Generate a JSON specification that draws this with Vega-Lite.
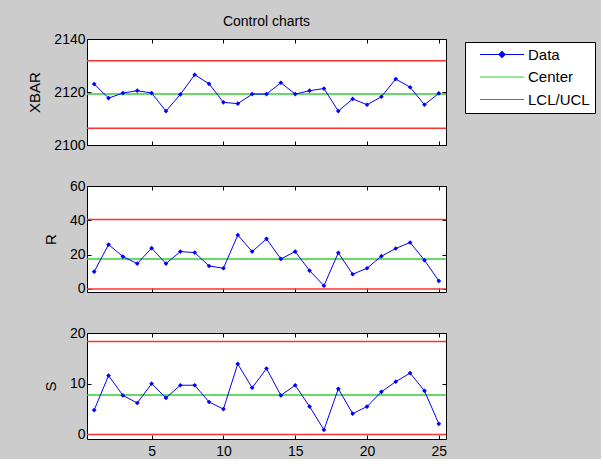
{
  "$schema": "https://vega.github.io/schema/vega-lite/v6.json",
  "background": "#cccccc",
  "padding": {"left": 27, "top": 14, "right": 5, "bottom": 0},
  "bounds": "flush",
  "spacing": 41,
  "config": {
    "font": "Liberation Sans",
    "view": {"fill": "white", "stroke": "#000000", "strokeWidth": 1},
    "axis": {
      "grid": false, "domain": false, "ticks": true, "tickSize": -4, "tickColor": "#000000", "format": "d",
      "labelColor": "#000000", "labelFontSize": 14, "labelFont": "Liberation Sans",
      "titleFont": "Liberation Sans", "titleFontSize": 15, "titleFontWeight": "normal", "titleColor": "#000000"
    }
  },
  "datasets": {
    "pts": [
      {"chart": "XBAR", "sample": 1, "value": 2123.0, "series": "Data"},
      {"chart": "XBAR", "sample": 2, "value": 2117.7, "series": "Data"},
      {"chart": "XBAR", "sample": 3, "value": 2119.6, "series": "Data"},
      {"chart": "XBAR", "sample": 4, "value": 2120.5, "series": "Data"},
      {"chart": "XBAR", "sample": 5, "value": 2119.6, "series": "Data"},
      {"chart": "XBAR", "sample": 6, "value": 2112.8, "series": "Data"},
      {"chart": "XBAR", "sample": 7, "value": 2119.1, "series": "Data"},
      {"chart": "XBAR", "sample": 8, "value": 2126.5, "series": "Data"},
      {"chart": "XBAR", "sample": 9, "value": 2123.1, "series": "Data"},
      {"chart": "XBAR", "sample": 10, "value": 2116.1, "series": "Data"},
      {"chart": "XBAR", "sample": 11, "value": 2115.6, "series": "Data"},
      {"chart": "XBAR", "sample": 12, "value": 2119.2, "series": "Data"},
      {"chart": "XBAR", "sample": 13, "value": 2119.2, "series": "Data"},
      {"chart": "XBAR", "sample": 14, "value": 2123.5, "series": "Data"},
      {"chart": "XBAR", "sample": 15, "value": 2119.2, "series": "Data"},
      {"chart": "XBAR", "sample": 16, "value": 2120.5, "series": "Data"},
      {"chart": "XBAR", "sample": 17, "value": 2121.3, "series": "Data"},
      {"chart": "XBAR", "sample": 18, "value": 2112.8, "series": "Data"},
      {"chart": "XBAR", "sample": 19, "value": 2117.4, "series": "Data"},
      {"chart": "XBAR", "sample": 20, "value": 2115.2, "series": "Data"},
      {"chart": "XBAR", "sample": 21, "value": 2118.2, "series": "Data"},
      {"chart": "XBAR", "sample": 22, "value": 2124.9, "series": "Data"},
      {"chart": "XBAR", "sample": 23, "value": 2121.8, "series": "Data"},
      {"chart": "XBAR", "sample": 24, "value": 2115.2, "series": "Data"},
      {"chart": "XBAR", "sample": 25, "value": 2119.5, "series": "Data"},
      {"chart": "R", "sample": 1, "value": 10.1, "series": "Data"},
      {"chart": "R", "sample": 2, "value": 25.9, "series": "Data"},
      {"chart": "R", "sample": 3, "value": 18.9, "series": "Data"},
      {"chart": "R", "sample": 4, "value": 14.8, "series": "Data"},
      {"chart": "R", "sample": 5, "value": 23.8, "series": "Data"},
      {"chart": "R", "sample": 6, "value": 14.8, "series": "Data"},
      {"chart": "R", "sample": 7, "value": 21.8, "series": "Data"},
      {"chart": "R", "sample": 8, "value": 21.2, "series": "Data"},
      {"chart": "R", "sample": 9, "value": 13.4, "series": "Data"},
      {"chart": "R", "sample": 10, "value": 12.1, "series": "Data"},
      {"chart": "R", "sample": 11, "value": 31.4, "series": "Data"},
      {"chart": "R", "sample": 12, "value": 21.8, "series": "Data"},
      {"chart": "R", "sample": 13, "value": 29.2, "series": "Data"},
      {"chart": "R", "sample": 14, "value": 17.5, "series": "Data"},
      {"chart": "R", "sample": 15, "value": 21.8, "series": "Data"},
      {"chart": "R", "sample": 16, "value": 10.7, "series": "Data"},
      {"chart": "R", "sample": 17, "value": 1.9, "series": "Data"},
      {"chart": "R", "sample": 18, "value": 21.1, "series": "Data"},
      {"chart": "R", "sample": 19, "value": 8.6, "series": "Data"},
      {"chart": "R", "sample": 20, "value": 12.1, "series": "Data"},
      {"chart": "R", "sample": 21, "value": 19.1, "series": "Data"},
      {"chart": "R", "sample": 22, "value": 23.6, "series": "Data"},
      {"chart": "R", "sample": 23, "value": 27.1, "series": "Data"},
      {"chart": "R", "sample": 24, "value": 16.8, "series": "Data"},
      {"chart": "R", "sample": 25, "value": 4.7, "series": "Data"},
      {"chart": "S", "sample": 1, "value": 4.8, "series": "Data"},
      {"chart": "S", "sample": 2, "value": 11.6, "series": "Data"},
      {"chart": "S", "sample": 3, "value": 7.7, "series": "Data"},
      {"chart": "S", "sample": 4, "value": 6.2, "series": "Data"},
      {"chart": "S", "sample": 5, "value": 10.0, "series": "Data"},
      {"chart": "S", "sample": 6, "value": 7.2, "series": "Data"},
      {"chart": "S", "sample": 7, "value": 9.7, "series": "Data"},
      {"chart": "S", "sample": 8, "value": 9.7, "series": "Data"},
      {"chart": "S", "sample": 9, "value": 6.4, "series": "Data"},
      {"chart": "S", "sample": 10, "value": 5.0, "series": "Data"},
      {"chart": "S", "sample": 11, "value": 13.9, "series": "Data"},
      {"chart": "S", "sample": 12, "value": 9.2, "series": "Data"},
      {"chart": "S", "sample": 13, "value": 13.0, "series": "Data"},
      {"chart": "S", "sample": 14, "value": 7.7, "series": "Data"},
      {"chart": "S", "sample": 15, "value": 9.7, "series": "Data"},
      {"chart": "S", "sample": 16, "value": 5.5, "series": "Data"},
      {"chart": "S", "sample": 17, "value": 0.9, "series": "Data"},
      {"chart": "S", "sample": 18, "value": 9.0, "series": "Data"},
      {"chart": "S", "sample": 19, "value": 4.1, "series": "Data"},
      {"chart": "S", "sample": 20, "value": 5.5, "series": "Data"},
      {"chart": "S", "sample": 21, "value": 8.4, "series": "Data"},
      {"chart": "S", "sample": 22, "value": 10.4, "series": "Data"},
      {"chart": "S", "sample": 23, "value": 12.1, "series": "Data"},
      {"chart": "S", "sample": 24, "value": 8.6, "series": "Data"},
      {"chart": "S", "sample": 25, "value": 2.1, "series": "Data"}
    ],
    "lims": [
      {"chart": "XBAR", "value": 2119.2, "series": "Center"},
      {"chart": "XBAR", "value": 2131.8, "series": "LCL/UCL"},
      {"chart": "XBAR", "value": 2106.3, "series": "LCL/UCL"},
      {"chart": "R", "value": 17.5, "series": "Center"},
      {"chart": "R", "value": 40.5, "series": "LCL/UCL"},
      {"chart": "R", "value": 0, "series": "LCL/UCL"},
      {"chart": "S", "value": 7.8, "series": "Center"},
      {"chart": "S", "value": 18.3, "series": "LCL/UCL"},
      {"chart": "S", "value": 0, "series": "LCL/UCL"}
    ]
  },
  "vconcat": [
    {
      "width": 359, "height": 106,
      "title": {"text": "Control charts", "fontSize": 14, "fontWeight": "normal", "color": "#000000", "font": "Liberation Sans", "offset": 3},
      "layer": [
        {
          "data": {"name": "lims"},
          "transform": [{"filter": "datum.chart === 'XBAR'"}],
          "mark": {"type": "rule", "strokeWidth": 1.5},
          "encoding": {
            "y": {"field": "value", "type": "quantitative", "scale": {"domain": [2100, 2140], "nice": false, "zero": false}, "axis": null},
            "color": {"field": "series", "type": "nominal",
              "scale": {"domain": ["Data", "Center", "LCL/UCL"], "range": ["#0000ff", "#33cc33", "#ff3030"]},
              "legend": {"title": null, "orient": "none", "legendX": 378, "legendY": 3, "padding": 5, "strokeColor": "#000000", "fillColor": "#ffffff",
                "labelFontSize": 15, "labelColor": "#000000", "labelFont": "Liberation Sans", "symbolSize": 100, "symbolStrokeWidth": 1.2,
                "rowPadding": 6.5, "labelOffset": 37, "symbolOffset": 6, "symbolType": "stroke",
                "encode": {"symbols": {"update": {
                  "shape": {"signal": "datum.value === 'Data' ? 'M-0.7,0H8.1M3.7,-0.6L4.3,0L3.7,0.6L3.1,0Z' : 'M-0.7,0H8.1'"},
                  "fill": {"signal": "datum.value === 'Data' ? '#0000ff' : 'transparent'"},
                  "stroke": {"signal": "datum.value === 'Data' ? '#0000ff' : datum.value === 'Center' ? '#33cc33' : '#ff0000'"},
                  "strokeWidth": {"value": 1.2},
                  "opacity": {"value": 1}
                }}}}
            }
          }
        },
        {
          "data": {"name": "pts"},
          "transform": [{"filter": "datum.chart === 'XBAR'"}],
          "mark": {"type": "line", "strokeWidth": 1, "point": {"shape": "diamond", "size": 22, "filled": true}},
          "encoding": {
            "x": {"field": "sample", "type": "quantitative", "scale": {"domain": [0.5, 25.5], "nice": false, "zero": false},
              "axis": {"values": [5, 10, 15, 20, 25], "labels": false, "title": null}},
            "y": {"field": "value", "type": "quantitative", "axis": {"values": [2100, 2120, 2140], "title": "XBAR", "labelPadding": 6, "titlePadding": 11}},
            "color": {"field": "series", "type": "nominal"}
          }
        },
        {
          "data": {"name": "pts"},
          "transform": [{"filter": "datum.chart === 'XBAR'"}],
          "mark": {"type": "point", "opacity": 0},
          "encoding": {
            "x": {"field": "sample", "type": "quantitative", "axis": {"values": [5, 10, 15, 20, 25], "labels": false, "title": null, "orient": "top"}},
            "y": {"field": "value", "type": "quantitative", "axis": {"values": [2100, 2120, 2140], "labels": false, "title": null, "orient": "right"}}
          }
        }
      ],
      "resolve": {"axis": {"x": "independent", "y": "independent"}}
    },
    {
      "width": 359, "height": 106,
      "layer": [
        {
          "data": {"name": "lims"},
          "transform": [{"filter": "datum.chart === 'R'"}],
          "mark": {"type": "rule", "strokeWidth": 1.5},
          "encoding": {
            "y": {"field": "value", "type": "quantitative", "scale": {"domain": [-1.75, 60], "nice": false, "zero": false}, "axis": null},
            "color": {"field": "series", "type": "nominal"}
          }
        },
        {
          "data": {"name": "pts"},
          "transform": [{"filter": "datum.chart === 'R'"}],
          "mark": {"type": "line", "strokeWidth": 1, "point": {"shape": "diamond", "size": 22, "filled": true}},
          "encoding": {
            "x": {"field": "sample", "type": "quantitative", "scale": {"domain": [0.5, 25.5], "nice": false, "zero": false},
              "axis": {"values": [5, 10, 15, 20, 25], "labels": false, "title": null}},
            "y": {"field": "value", "type": "quantitative", "axis": {"values": [0, 20, 40, 60], "title": "R", "labelPadding": 6, "titlePadding": 11}},
            "color": {"field": "series", "type": "nominal"}
          }
        },
        {
          "data": {"name": "pts"},
          "transform": [{"filter": "datum.chart === 'R'"}],
          "mark": {"type": "point", "opacity": 0},
          "encoding": {
            "x": {"field": "sample", "type": "quantitative", "axis": {"values": [5, 10, 15, 20, 25], "labels": false, "title": null, "orient": "top"}},
            "y": {"field": "value", "type": "quantitative", "axis": {"values": [0, 20, 40, 60], "labels": false, "title": null, "orient": "right"}}
          }
        }
      ],
      "resolve": {"axis": {"x": "independent", "y": "independent"}}
    },
    {
      "width": 359, "height": 106,
      "layer": [
        {
          "data": {"name": "lims"},
          "transform": [{"filter": "datum.chart === 'S'"}],
          "mark": {"type": "rule", "strokeWidth": 1.5},
          "encoding": {
            "y": {"field": "value", "type": "quantitative", "scale": {"domain": [-0.9, 20], "nice": false, "zero": false}, "axis": null},
            "color": {"field": "series", "type": "nominal"}
          }
        },
        {
          "data": {"name": "pts"},
          "transform": [{"filter": "datum.chart === 'S'"}],
          "mark": {"type": "line", "strokeWidth": 1, "point": {"shape": "diamond", "size": 22, "filled": true}},
          "encoding": {
            "x": {"field": "sample", "type": "quantitative", "scale": {"domain": [0.5, 25.5], "nice": false, "zero": false},
              "axis": {"values": [5, 10, 15, 20, 25], "title": null, "labelPadding": 9}},
            "y": {"field": "value", "type": "quantitative", "axis": {"values": [0, 10, 20], "title": "S", "labelPadding": 6, "titlePadding": 11}},
            "color": {"field": "series", "type": "nominal"}
          }
        },
        {
          "data": {"name": "pts"},
          "transform": [{"filter": "datum.chart === 'S'"}],
          "mark": {"type": "point", "opacity": 0},
          "encoding": {
            "x": {"field": "sample", "type": "quantitative", "axis": {"values": [5, 10, 15, 20, 25], "labels": false, "title": null, "orient": "top"}},
            "y": {"field": "value", "type": "quantitative", "axis": {"values": [0, 10, 20], "labels": false, "title": null, "orient": "right"}}
          }
        }
      ],
      "resolve": {"axis": {"x": "independent", "y": "independent"}}
    }
  ],
  "resolve": {"scale": {"color": "shared"}, "legend": {"color": "shared"}}
}
